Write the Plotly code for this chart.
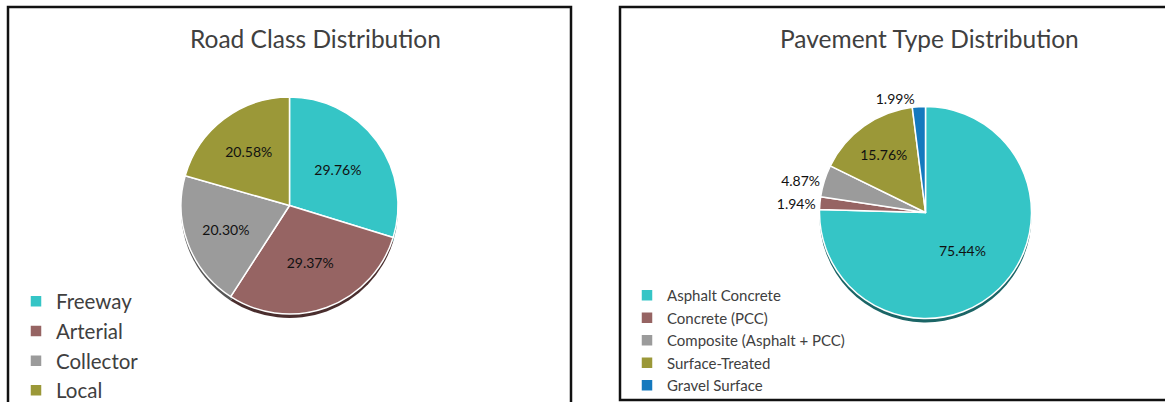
import plotly.graph_objects as go

# Road class shares (%)
road_classes = ["Freeway", "Arterial", "Collector", "Local"]
road_shares = [29.76, 29.37, 20.30, 20.58]

# Pavement type shares (%)
pavement_types = ["Asphalt Concrete", "Concrete (PCC)", "Composite (Asphalt + PCC)",
                  "Surface-Treated", "Gravel Surface"]
pavement_shares = [75.44, 1.94, 4.87, 15.76, 1.99]
pavement_textpos = ["inside", "outside", "outside", "inside", "outside"]

road_colors = ["#35C5C6", "#966463", "#9B9B9B", "#9B9838"]
road_shadow = ["#1E6E70", "#4A2E2E", "#555555", "#55531E"]
pave_colors = ["#35C5C6", "#966463", "#9B9B9B", "#9B9838", "#1479BE"]
pave_shadow = ["#1B6566", "#4A2E2E", "#555555", "#55531E", "#0A4070"]

W, H = 1165, 402
FONT = "Lato"


def px_x(v):
    return v / W


def px_y(v):
    return 1 - v / H


def domain(cx, cy, r, dy=0):
    return dict(x=[px_x(cx - r), px_x(cx + r)],
                y=[px_y(cy + r + dy), px_y(cy - r + dy)])


ROAD_C = (289.5, 205.5, 108.5)
PAVE_C = (925.5, 212.5, 106)

fig = go.Figure()

# soft drop shadows beneath each pie
fig.add_trace(go.Pie(labels=road_classes, values=road_shares, sort=False,
                     direction="clockwise", rotation=0, textinfo="none",
                     marker=dict(colors=road_shadow), showlegend=False,
                     hoverinfo="skip", domain=domain(*ROAD_C, dy=4)))
fig.add_trace(go.Pie(labels=pavement_types, values=pavement_shares, sort=False,
                     direction="clockwise", rotation=0, textinfo="none",
                     marker=dict(colors=pave_shadow), showlegend=False,
                     hoverinfo="skip", domain=domain(*PAVE_C, dy=4)))

fig.add_trace(go.Pie(
    labels=road_classes, values=road_shares, sort=False,
    direction="clockwise", rotation=0,
    texttemplate="%{value:.2f}%", textposition="inside",
    insidetextorientation="horizontal",
    textfont=dict(family=FONT, size=14, color="#111111"),
    marker=dict(colors=road_colors, line=dict(color="white", width=1.5)),
    domain=domain(*ROAD_C), legend="legend",
))
fig.add_trace(go.Pie(
    labels=pavement_types, values=pavement_shares, sort=False,
    direction="clockwise", rotation=0,
    texttemplate="%{value:.2f}%", textposition=pavement_textpos,
    insidetextorientation="horizontal",
    textfont=dict(family=FONT, size=14, color="#111111"),
    outsidetextfont=dict(family=FONT, size=14, color="#111111"),
    marker=dict(colors=pave_colors, line=dict(color="white", width=1.5)),
    domain=domain(*PAVE_C), legend="legend2",
))

# panel frames
fig.add_shape(type="rect", xref="paper", yref="paper",
              x0=px_x(8), x1=px_x(571), y0=px_y(430), y1=px_y(7),
              line=dict(color="#111111", width=2.5))
fig.add_shape(type="rect", xref="paper", yref="paper",
              x0=px_x(620), x1=px_x(1200), y0=px_y(400), y1=px_y(7),
              line=dict(color="#111111", width=2.5))

title_font = dict(family=FONT, size=24.5, color="#404040")
fig.add_annotation(text="Road Class Distribution", x=px_x(315), y=px_y(38),
                   xref="paper", yref="paper", xanchor="center", yanchor="middle",
                   showarrow=False, font=title_font)
fig.add_annotation(text="Pavement Type Distribution", x=px_x(929), y=px_y(38),
                   xref="paper", yref="paper", xanchor="center", yanchor="middle",
                   showarrow=False, font=title_font)

fig.update_layout(
    width=W, height=H,
    margin=dict(l=0, r=0, t=0, b=0, autoexpand=False),
    paper_bgcolor="white", plot_bgcolor="white",
    legend=dict(x=px_x(16), y=px_y(281.5), xanchor="left", yanchor="top",
                font=dict(family=FONT, size=20.5, color="#404040"),
                bgcolor="rgba(0,0,0,0)"),
    legend2=dict(x=px_x(627), y=px_y(279), xanchor="left", yanchor="top",
                 font=dict(family=FONT, size=15, color="#404040"),
                 bgcolor="rgba(0,0,0,0)"),
)

fig.write_html("out.html")
